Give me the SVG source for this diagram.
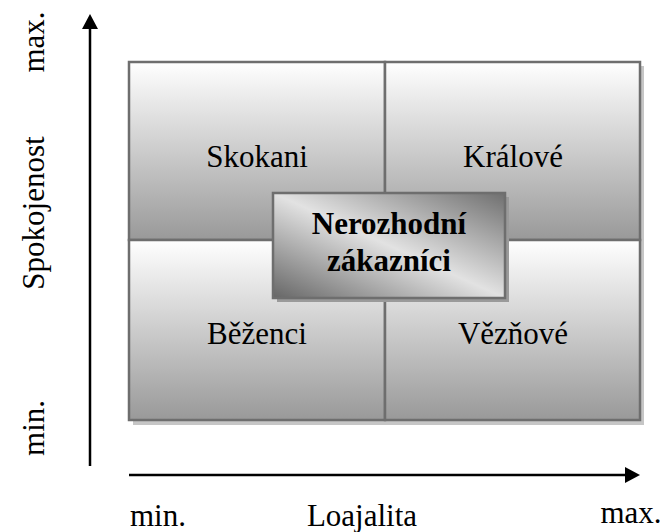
<svg xmlns="http://www.w3.org/2000/svg" width="664" height="532" viewBox="0 0 664 532">
  <defs>
    <linearGradient id="cellFill" x1="0" y1="0" x2="0" y2="1">
      <stop offset="0" stop-color="#ffffff"/>
      <stop offset="1" stop-color="#999999"/>
    </linearGradient>
    <linearGradient id="centerFill" x1="1" y1="0" x2="0" y2="1">
      <stop offset="0" stop-color="#6f6f6f"/>
      <stop offset="0.5" stop-color="#e2e2e2"/>
      <stop offset="1" stop-color="#666666"/>
    </linearGradient>
    <marker id="head" markerUnits="userSpaceOnUse" markerWidth="16" markerHeight="16" refX="0" refY="8" orient="auto">
      <path d="M0,0 L15,8 L0,16 Z" fill="#000"/>
    </marker>
  </defs>
  <style>
    .cell { fill: url(#cellFill); stroke: #6e6e6e; stroke-width: 2.5; }
    .shadow { fill: #c6c6c6; }
    .label { font-family: "Liberation Serif", "Times New Roman", serif; font-size: 31px; fill: #000; text-anchor: middle; }
    .bold { font-weight: bold; }
    .axis { stroke: #000; stroke-width: 2.5; fill: none; marker-end: url(#head); }
  </style>

  <!-- drop shadow under the 2x2 grid -->
  <rect class="shadow" x="133" y="66" width="511" height="359"/>

  <g id="skokani">
    <rect class="cell" x="129" y="62" width="256" height="178"/>
    <text class="label" x="257" y="167">Skokani</text>
  </g>
  <g id="kralove">
    <rect class="cell" x="385" y="62" width="255" height="178"/>
    <text class="label" x="513" y="167">Králové</text>
  </g>
  <g id="bezenci">
    <rect class="cell" x="129" y="240" width="256" height="180"/>
    <text class="label" x="257" y="344">Běženci</text>
  </g>
  <g id="veznove">
    <rect class="cell" x="385" y="240" width="255" height="180"/>
    <text class="label" x="513" y="344">Vězňové</text>
  </g>

  <g id="nerozhodni">
    <rect x="277" y="197" width="232" height="105" fill="#9a9a9a"/>
    <rect x="273" y="193" width="232" height="105" fill="url(#centerFill)" stroke="#6e6e6e" stroke-width="2.5"/>
    <text class="label bold" x="389" y="234">Nerozhodní</text>
    <text class="label bold" x="389" y="271">zákazníci</text>
  </g>

  <g id="axes">
    <line class="axis" x1="90" y1="466" x2="90" y2="29"/>
    <line class="axis" x1="129" y1="475" x2="625" y2="475"/>
  </g>

  <g id="axis-labels">
    <text class="label" x="158" y="526">min.</text>
    <text class="label" x="362" y="526">Loajalita</text>
    <text class="label" x="631" y="523">max.</text>
    <text class="label" transform="translate(44,428) rotate(-90)">min.</text>
    <text class="label" transform="translate(44,213) rotate(-90)">Spokojenost</text>
    <text class="label" transform="translate(44,42) rotate(-90)">max.</text>
  </g>
</svg>
